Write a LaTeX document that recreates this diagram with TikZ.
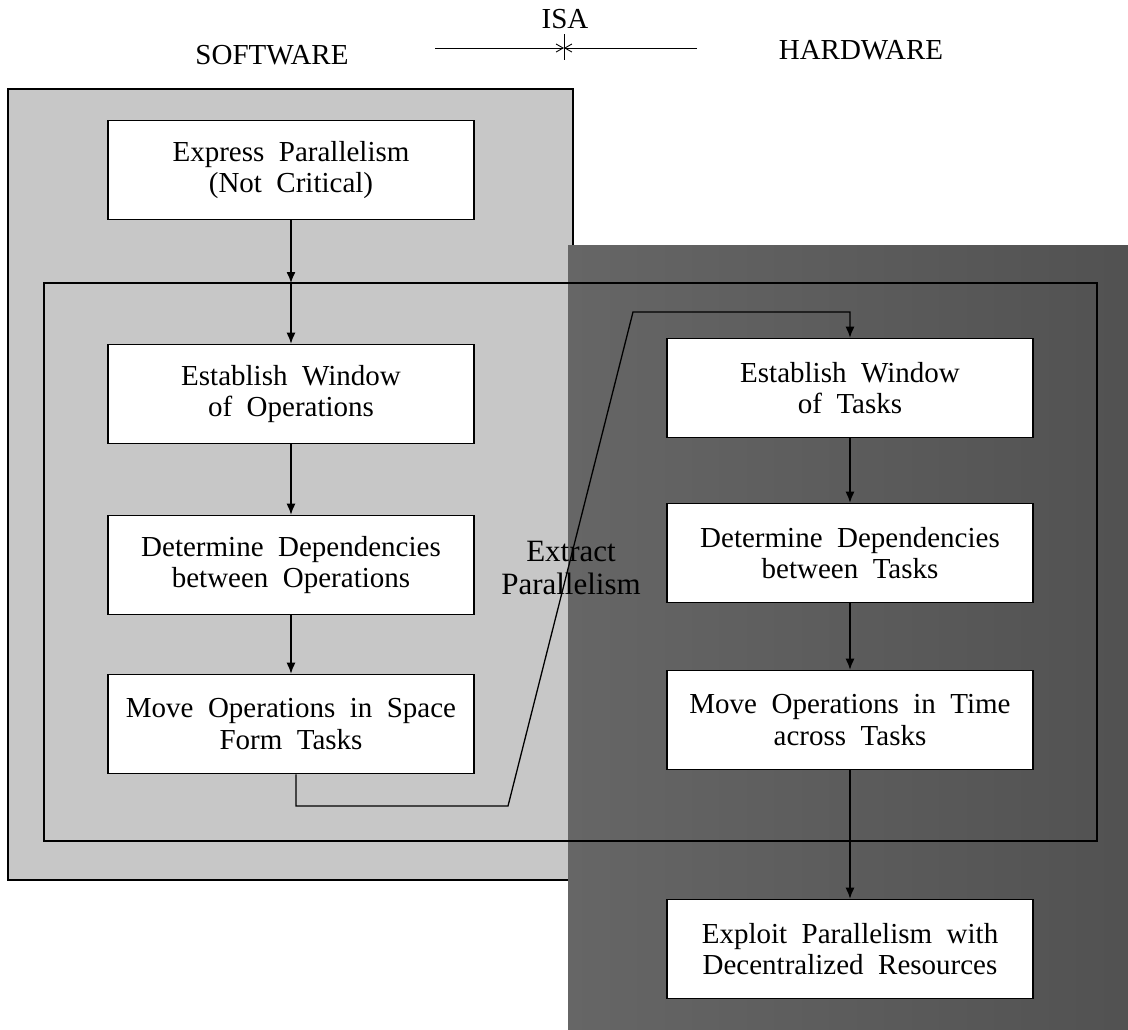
\documentclass[tikz,border=0pt]{standalone}
\usepackage{fontspec}
\setmainfont{Liberation Serif}
\usetikzlibrary{arrows.meta}
\newcommand\stagefont{\fontsize{29}{31.5}\selectfont\spaceskip 0.5em\relax}
\begin{document}
\begin{tikzpicture}[x=1pt,y=-1pt,
  txt/.style={font={\stagefont}},
  stage/.style={txt, draw=black, line width=1.6pt, fill=white,
    minimum width=366pt, minimum height=99pt, align=center, inner sep=0pt},
  flow/.style={line width=1.3pt, -{Latex[length=11pt,width=9pt]}},
  isaarrow/.style={line width=0.9pt, -{Straight Barb[length=7pt,width=8pt]}},
  extract/.style={font={\fontsize{31}{33}\selectfont}, align=center, inner sep=0pt},
]
\useasboundingbox (0,0) rectangle (1128,1029);
\fill[white] (0,0) rectangle (1128,1029);

% software side
\filldraw[fill=black!22, draw=black, line width=1.3pt] (8,89) rectangle (573,880);
% hardware side
\shade[left color=black!60, middle color=black!48, right color=black!68]
  (568,245) rectangle (1128,1029);
% window shared by both sides
\draw[line width=1.3pt] (44,283) rectangle (1097,841);

% headings
\node[txt, anchor=base] (sw) at (272,64) {SOFTWARE};
\node[txt, anchor=base] (hw) at (861,59) {HARDWARE};
\node[txt, anchor=base] (isa) at (565,28) {ISA};
\coordinate (isaL) at (435,48);
\coordinate (isaR) at (697,48);
\coordinate (isaT) at (564,48);
\draw[line width=0.9pt] (isaT) ++(0,-14) -- ++(0,26);
\draw[isaarrow] (isaL) -- (isaT);
\draw[isaarrow] (isaR) -- (isaT);

% stages
\node[stage] (ex) at (291,170) {Express Parallelism\\(Not Critical)};
\node[stage] (wo) at (291,394) {Establish Window\\of Operations};
\node[stage] (do) at (291,565) {Determine Dependencies\\between Operations};
\node[stage] (ms) at (291,724) {Move Operations in Space\\Form Tasks};
\node[stage] (wt) at (850,388) {Establish Window\\of Tasks};
\node[stage] (dt) at (850,553) {Determine Dependencies\\between Tasks};
\node[stage] (mt) at (850,720) {Move Operations in Time\\across Tasks};
\node[stage] (xp) at (850,949) {Exploit Parallelism with\\Decentralized Resources};

% flow
\coordinate (inTop) at (291,283);
\draw[flow] (ex) -- (inTop);
\draw[flow] (inTop) -- (wo);
\draw[flow] (wo) -- (do);
\draw[flow] (do) -- (ms);
\draw[flow] (wt) -- (dt);
\draw[flow] (dt) -- (mt);
\draw[flow] (mt) -- (xp);

% hand-over from software to hardware
\coordinate (ex1) at (508,806);
\coordinate (ex2) at (633,312);
\draw[flow] ([xshift=5pt]ms.south) |- (ex1) -- (ex2) -| (wt.north);
\node[extract] (xl) at (571,568) {Extract\\Parallelism};
\end{tikzpicture}
\end{document}
